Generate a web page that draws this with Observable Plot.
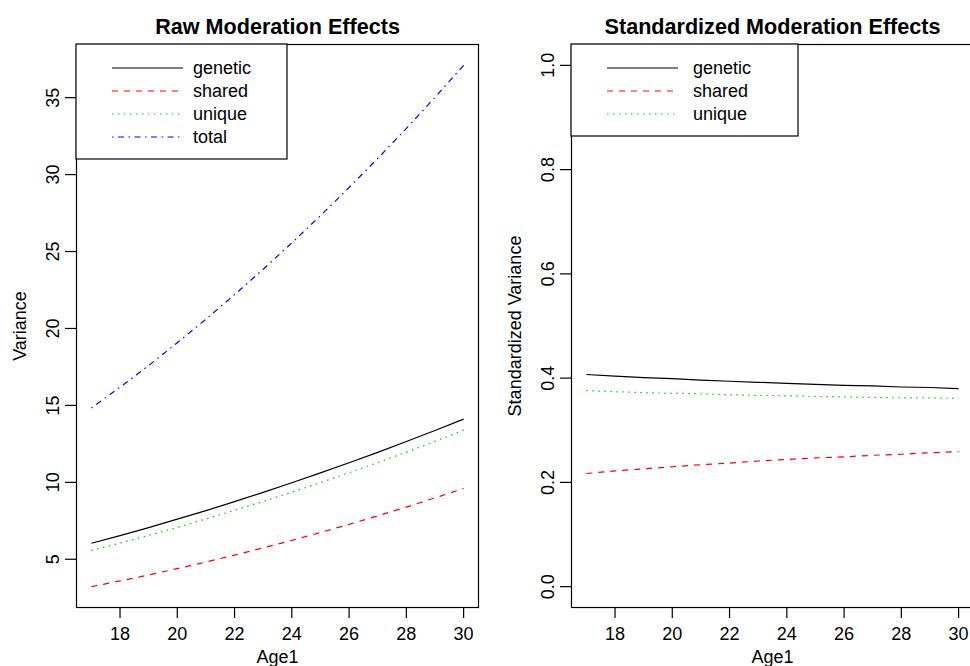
<!DOCTYPE html>
<html>
<head>
<meta charset="utf-8">
<script src="https://cdn.jsdelivr.net/npm/d3@7"></script>
<script src="https://cdn.jsdelivr.net/npm/@observablehq/plot@0.6"></script>
<style>
  html, body { margin: 0; padding: 0; background: white; }
  #wrap { position: relative; width: 970px; height: 666px; overflow: hidden; background: white; }
  #left { position: absolute; left: 0; top: 0; width: 485px; }
  #right { position: absolute; left: 485px; top: 0; width: 500px; }
  #wrap svg { max-width: none !important; }
</style>
</head>
<body>
<div id="wrap"><div id="left"></div><div id="right"></div></div>
<script>
// ---- data ----
const ages = [17, 18, 19, 20, 21, 22, 23, 24, 25, 26, 27, 28, 29, 30];

const rawGenetic = [6.04, 6.54, 7.06, 7.61, 8.16, 8.75, 9.35, 9.97, 10.61, 11.27, 11.95, 12.65, 13.37, 14.11];
const rawShared  = [3.22, 3.59, 3.98, 4.39, 4.82, 5.27, 5.74, 6.23, 6.74, 7.27, 7.82, 8.39, 8.99, 9.60];
const rawUnique  = [5.57, 6.05, 6.55, 7.07, 7.62, 8.18, 8.76, 9.36, 9.98, 10.62, 11.28, 11.96, 12.66, 13.39];
const rawTotal   = [14.83, 16.18, 17.59, 19.07, 20.60, 22.20, 23.85, 25.56, 27.33, 29.16, 31.05, 33.00, 35.02, 37.10];

const stdGenetic = [0.407, 0.404, 0.401, 0.399, 0.396, 0.394, 0.392, 0.390, 0.388, 0.386, 0.385, 0.383, 0.382, 0.380];
const stdShared  = [0.217, 0.222, 0.226, 0.230, 0.234, 0.237, 0.241, 0.244, 0.247, 0.249, 0.252, 0.254, 0.257, 0.259];
const stdUnique  = [0.376, 0.374, 0.372, 0.371, 0.370, 0.368, 0.367, 0.366, 0.365, 0.364, 0.363, 0.362, 0.362, 0.361];

const xTicks = [18, 20, 22, 24, 26, 28, 30];
const rawYTicks = [5, 10, 15, 20, 25, 30, 35];
const stdYTicks = [0.0, 0.2, 0.4, 0.6, 0.8, 1.0];
const stdYLimits = [0, 1];

const seriesNames = ["genetic", "shared", "unique", "total"];
const seriesColors = ["#000000", "#FF0000", "#00CD00", "#0000FF"];
const seriesDash = [null, "6,6", "1.5,4.5", "1.5,4.5,6,4.5"];

// ---- helpers ----
const FONT = "'Liberation Sans', Arial, Helvetica, sans-serif";
function pad4(ext) { const r = ext[1] - ext[0]; return [ext[0] - 0.04 * r, ext[1] + 0.04 * r]; }
function rows(values) { return ages.map((a, i) => ({age: a, value: values[i]})); }

function panel({width, marginLeft, marginRight, yDomain, yTicks, yFormat, series, title, ylab, legend}) {
  const lineMarks = series.map((vals, i) =>
    Plot.line(rows(vals), {x: "age", y: "value", stroke: seriesColors[i], strokeWidth: 1.2,
      strokeDasharray: seriesDash[i] || undefined, strokeLinecap: "butt"}));
  const svg = Plot.plot({
    width, height: 666,
    marginLeft, marginRight, marginTop: 44, marginBottom: 59,
    style: `font-family: ${FONT}; font-size: 18px; color: black; background: white; overflow: visible; max-width: none;`,
    x: {domain: pad4(d3.extent(ages))},
    y: {domain: yDomain},
    marks: [
      Plot.axisX({ticks: xTicks, tickSize: 11, tickPadding: 9, label: null, stroke: "black", strokeWidth: 1.2}),
      Plot.axisY({ticks: yTicks, tickSize: 11, tickPadding: 7, tickRotate: -90, tickFormat: yFormat, label: null, stroke: "black", strokeWidth: 1.2}),
      ...lineMarks,
      Plot.frame({stroke: "black", strokeWidth: 1.2}),
      Plot.text([title], {text: d => d, frameAnchor: "top", dy: -11, lineAnchor: "bottom", fontWeight: "bold", fontSize: 21.6, fill: "black"}),
      Plot.text(["Age1"], {text: d => d, frameAnchor: "bottom", dy: 55, lineAnchor: "bottom", fill: "black"}),
      Plot.text([ylab], {text: d => d, frameAnchor: "left", dx: -51, rotate: -90, lineAnchor: "bottom", textAnchor: "middle", fill: "black"})
    ]
  });
  // legend box (layout only)
  const g = d3.select(svg).append("g").attr("font-family", FONT).attr("font-size", 18).attr("text-anchor", "start");
  g.append("rect").attr("x", marginLeft).attr("y", 44).attr("width", legend.w).attr("height", legend.n * 23 + 23)
    .attr("fill", "white").attr("stroke", "black").attr("stroke-width", 1.2);
  for (let i = 0; i < legend.n; i++) {
    const y = 68 + i * 23;
    g.append("line").attr("x1", marginLeft + legend.l1).attr("x2", marginLeft + legend.l2).attr("y1", y).attr("y2", y)
      .attr("stroke", seriesColors[i]).attr("stroke-width", 1.2).attr("stroke-dasharray", seriesDash[i]);
    g.append("text").attr("x", marginLeft + legend.t).attr("y", y).attr("dy", "0.32em")
      .attr("text-anchor", "start").attr("fill", "black").text(seriesNames[i]);
  }
  return svg;
}

document.getElementById("left").appendChild(panel({
  width: 485, marginLeft: 76, marginRight: 7,
  yDomain: pad4(d3.extent([...rawGenetic, ...rawShared, ...rawUnique, ...rawTotal])),
  yTicks: rawYTicks, yFormat: d3.format("d"),
  series: [rawGenetic, rawShared, rawUnique, rawTotal],
  title: "Raw Moderation Effects", ylab: "Variance",
  legend: {n: 4, w: 211, l1: 36, l2: 107, t: 117}
}));

document.getElementById("right").appendChild(panel({
  width: 500, marginLeft: 86, marginRight: 12,
  yDomain: pad4(stdYLimits),
  yTicks: stdYTicks, yFormat: d3.format(".1f"),
  series: [stdGenetic, stdShared, stdUnique],
  title: "Standardized Moderation Effects", ylab: "Standardized Variance",
  legend: {n: 3, w: 227, l1: 36, l2: 107, t: 122}
}));
</script>
</body>
</html>
